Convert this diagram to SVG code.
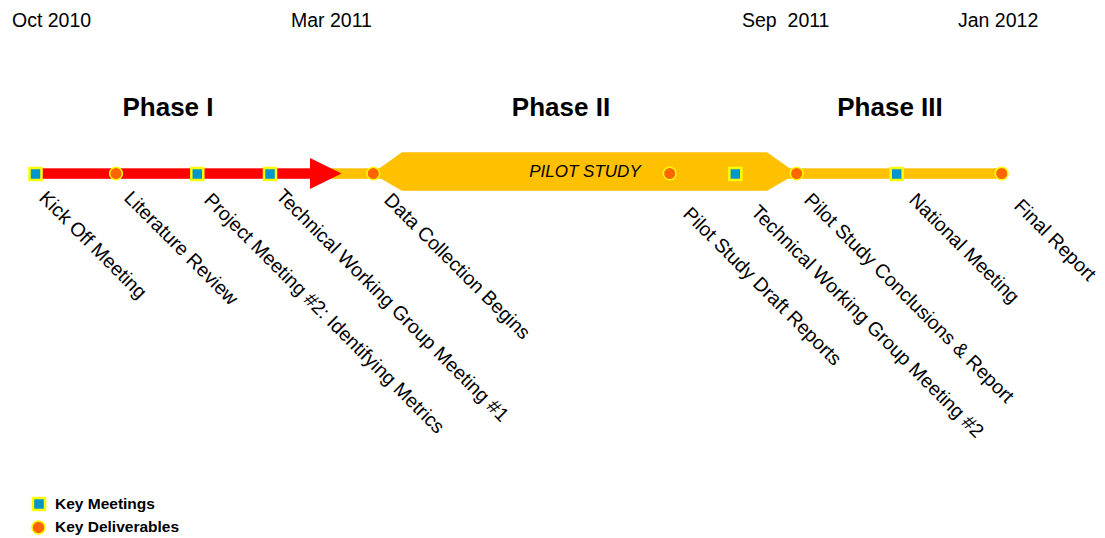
<svg xmlns="http://www.w3.org/2000/svg" width="1105" height="538" viewBox="0 0 1105 538">
<style>
.date{font-family:"Liberation Sans",Arial,sans-serif;font-size:19.5px;fill:#000}
.phase{font-family:"Liberation Sans",Arial,sans-serif;font-size:26px;font-weight:bold;fill:#000;text-anchor:middle}
.lbl{font-family:"Liberation Sans",Arial,sans-serif;font-size:19.5px;fill:#000}
.leg{font-family:"Liberation Sans",Arial,sans-serif;font-size:15.5px;font-weight:bold;fill:#000}
.pilot{font-family:"Liberation Sans",Arial,sans-serif;font-size:17px;font-style:italic;fill:#000;text-anchor:middle}
.meet{fill:#0095CC;stroke:#FFFF00;stroke-width:2.5}
.deliv{fill:#FF6600;stroke:#FFFF00;stroke-width:1.5}
</style>
<rect width="1105" height="538" fill="#fff"/>
<g id="dates">
<text class="date" x="12" y="27">Oct 2010</text>
<text class="date" x="291" y="27">Mar 2011</text>
<text class="date" x="742" y="27" xml:space="preserve">Sep  2011</text>
<text class="date" x="958" y="27">Jan 2012</text>
</g>
<g id="phases">
<text class="phase" x="168" y="116">Phase I</text>
<text class="phase" x="561" y="116">Phase II</text>
<text class="phase" x="890" y="116">Phase III</text>
</g>
<g id="connectors">
<rect x="330" y="168.3" width="672" height="10.5" fill="#FFC000"/>
<polygon points="372,173.5 402,152.3 767,152.3 797,173.5 767,190.7 402,190.7" fill="#FFC000"/>
<rect x="35" y="168.3" width="280" height="10.5" fill="#FF0000"/>
<polygon points="310,158 341.5,173.5 310,189" fill="#FF0000"/>
</g>
<g id="pilot-study">
<text class="pilot" x="585" y="177">PILOT STUDY</text>
</g>
<g id="markers">
<rect class="meet" x="29.5" y="168" width="12" height="12"/>
<circle class="deliv" cx="116" cy="173.5" r="6.3"/>
<rect class="meet" x="191.3" y="168" width="12" height="12"/>
<rect class="meet" x="264" y="168" width="12" height="12"/>
<circle class="deliv" cx="373.3" cy="173.5" r="6.3"/>
<circle class="deliv" cx="669.7" cy="173.5" r="6.3"/>
<rect class="meet" x="729.3" y="168" width="12" height="12"/>
<circle class="deliv" cx="796.7" cy="173.5" r="6.3"/>
<rect class="meet" x="890.7" y="168" width="12" height="12"/>
<circle class="deliv" cx="1001.7" cy="173.5" r="6.3"/>
</g>
<g id="labels">
<text class="lbl" transform="translate(38,199) rotate(45)">Kick Off Meeting</text>
<text class="lbl" transform="translate(123,199) rotate(45)">Literature Review</text>
<text class="lbl" transform="translate(203,201) rotate(45)">Project Meeting #2: Identifying Metrics</text>
<text class="lbl" transform="translate(275,197) rotate(45)">Technical Working Group Meeting #1</text>
<text class="lbl" transform="translate(383,201) rotate(45)">Data Collection Begins</text>
<text class="lbl" transform="translate(682,215) rotate(45)">Pilot Study Draft Reports</text>
<text class="lbl" transform="translate(750,213) rotate(45)">Technical Working Group Meeting #2</text>
<text class="lbl" transform="translate(803,201) rotate(45)">Pilot Study Conclusions &amp; Report</text>
<text class="lbl" transform="translate(908,201) rotate(45)">National Meeting</text>
<text class="lbl" transform="translate(1013,207) rotate(45)">Final Report</text>
</g>
<g id="legend">
<rect class="meet" x="33" y="498" width="12" height="12"/>
<text class="leg" x="55" y="509">Key Meetings</text>
<circle class="deliv" cx="38.5" cy="527.5" r="6.5"/>
<text class="leg" x="55" y="532">Key Deliverables</text>
</g>
</svg>
